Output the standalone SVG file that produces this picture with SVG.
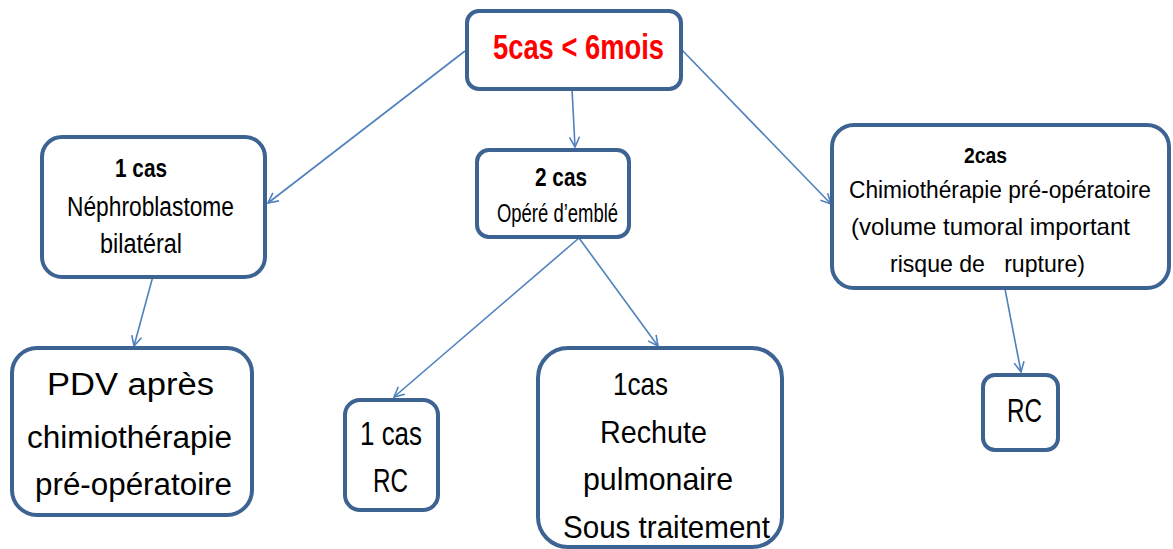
<svg xmlns="http://www.w3.org/2000/svg" width="1173" height="549" viewBox="0 0 1173 549">
<defs>
<style>
.box{fill:#ffffff;stroke:#3d6392;stroke-width:4}
.t{font-family:"Liberation Sans",Arial,sans-serif;fill:#000}
.b{font-weight:bold}
.red{fill:#ff0000;font-weight:bold}
.conn{stroke:#4f81bd;stroke-width:1.6;fill:none}
</style>
<marker id="arr" viewBox="0 0 12 12" refX="11" refY="6" markerWidth="12" markerHeight="12" markerUnits="userSpaceOnUse" orient="auto">
<path d="M1,1 L11,6 L1,11" fill="none" stroke="#4f81bd" stroke-width="1.6"/>
</marker>
</defs>
<rect width="1173" height="549" fill="#ffffff"/>
<g id="connectors">
<line class="conn" x1="465" y1="51" x2="268" y2="203" marker-end="url(#arr)"/>
<line class="conn" x1="572" y1="89" x2="575" y2="147" marker-end="url(#arr)"/>
<line class="conn" x1="682" y1="50" x2="831" y2="204" marker-end="url(#arr)"/>
<line class="conn" x1="153" y1="276" x2="134" y2="346" marker-end="url(#arr)"/>
<line class="conn" x1="579" y1="238" x2="394" y2="397" marker-end="url(#arr)"/>
<line class="conn" x1="579" y1="238" x2="658" y2="346" marker-end="url(#arr)"/>
<line class="conn" x1="1005" y1="289" x2="1021" y2="372" marker-end="url(#arr)"/>
</g>
<g id="n0">
<rect class="box" x="467" y="11" width="214" height="78" rx="12"/>
<text class="t red" x="493" y="59" font-size="35" textLength="171" lengthAdjust="spacingAndGlyphs">5cas &lt; 6mois</text>
</g>
<g id="n1">
<rect class="box" x="42" y="137" width="223" height="140" rx="20"/>
<text class="t b" x="115" y="177" font-size="25" textLength="52" lengthAdjust="spacingAndGlyphs">1 cas</text>
<text class="t" x="67" y="216" font-size="27" textLength="167" lengthAdjust="spacingAndGlyphs">Néphroblastome</text>
<text class="t" x="100" y="253" font-size="27" textLength="82" lengthAdjust="spacingAndGlyphs">bilatéral</text>
</g>
<g id="n2">
<rect class="box" x="477" y="150" width="152" height="87" rx="12"/>
<text class="t b" x="535" y="186" font-size="25" textLength="52" lengthAdjust="spacingAndGlyphs">2 cas</text>
<text class="t" x="497" y="222" font-size="25" textLength="121" lengthAdjust="spacingAndGlyphs">Opéré d’emblé</text>
</g>
<g id="n3">
<rect class="box" x="832" y="125" width="337" height="163" rx="22"/>
<text class="t b" x="964" y="163" font-size="22" textLength="43" lengthAdjust="spacingAndGlyphs">2cas</text>
<text class="t" x="849" y="198" font-size="23" textLength="302" lengthAdjust="spacingAndGlyphs">Chimiothérapie pré-opératoire</text>
<text class="t" x="851" y="235" font-size="24" textLength="279" lengthAdjust="spacingAndGlyphs">(volume tumoral  important</text>
<text class="t" x="890" y="272" font-size="24" textLength="195" lengthAdjust="spacingAndGlyphs" xml:space="preserve">risque de   rupture)</text>
</g>
<g id="n4">
<rect class="box" x="12" y="348" width="240" height="167" rx="25"/>
<text class="t" x="47" y="395" font-size="31" textLength="167" lengthAdjust="spacingAndGlyphs">PDV après</text>
<text class="t" x="27" y="448" font-size="31" textLength="205" lengthAdjust="spacingAndGlyphs">chimiothérapie</text>
<text class="t" x="35" y="495" font-size="31" textLength="197" lengthAdjust="spacingAndGlyphs">pré-opératoire</text>
</g>
<g id="n5">
<rect class="box" x="345" y="400" width="93" height="110" rx="15"/>
<text class="t" x="360" y="445" font-size="34" textLength="62" lengthAdjust="spacingAndGlyphs">1 cas</text>
<text class="t" x="373" y="492" font-size="34" textLength="35" lengthAdjust="spacingAndGlyphs">RC</text>
</g>
<g id="n6">
<rect class="box" x="538" y="348" width="244" height="199" rx="30"/>
<text class="t" x="613" y="395" font-size="32" textLength="55" lengthAdjust="spacingAndGlyphs">1cas</text>
<text class="t" x="600" y="443" font-size="32" textLength="107" lengthAdjust="spacingAndGlyphs">Rechute</text>
<text class="t" x="583" y="490" font-size="32" textLength="150" lengthAdjust="spacingAndGlyphs">pulmonaire</text>
<text class="t" x="563" y="538" font-size="32" textLength="207" lengthAdjust="spacingAndGlyphs">Sous traitement</text>
</g>
<g id="n7">
<rect class="box" x="983" y="375" width="75" height="75" rx="12"/>
<text class="t" x="1007" y="422" font-size="34" textLength="35" lengthAdjust="spacingAndGlyphs">RC</text>
</g>
</svg>
